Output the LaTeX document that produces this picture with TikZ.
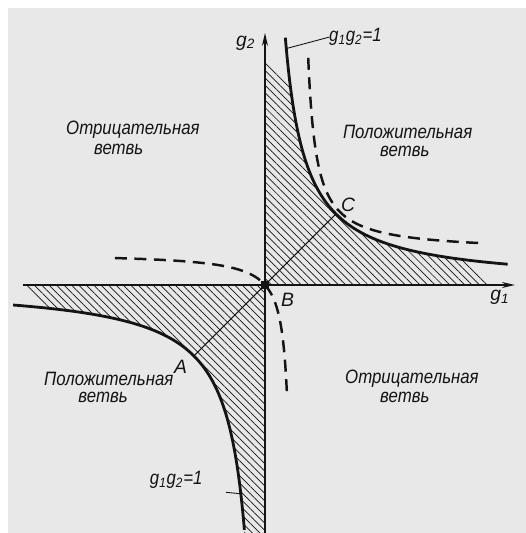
\documentclass[tikz,border=0pt]{standalone}
\usepackage{fontspec}
\setmainfont{Liberation Sans}
\usepackage{tikz}
\usetikzlibrary{arrows.meta, positioning, calc, patterns.meta}
\definecolor{PaperGray}{HTML}{E8E8E8}
\definecolor{InkBlack}{HTML}{141414}
\newcommand{\narrowtext}[1]{\scalebox{0.87}[1]{#1}}

\begin{document}
\begin{tikzpicture}[x=1.42cm, y=1.42cm, >={Stealth[length=2.6mm, width=1.2mm]},
    axis/.style={line width=0.8pt, ->, color=InkBlack},
    branch/.style={line width=1.6pt, color=InkBlack},
    dashbranch/.style={line width=1.4pt, color=InkBlack, dash pattern=on 2.4mm off 1.5mm},
    hatched/.style={pattern={Lines[angle=-45, distance=1.05mm, line width=0.4pt]}, pattern color=InkBlack},
    region/.style={font=\itshape\fontsize{11}{13}\selectfont, color=InkBlack, inner sep=0pt},
    ptlabel/.style={font=\itshape\fontsize{11}{13}\selectfont, color=InkBlack, inner sep=0pt}]
                % Page and paper
                \useasboundingbox (-3.732,-3.493) rectangle (3.676,4.014);
                \fill[white] (-3.732,-3.493) rectangle (3.676,4.014);
                \fill[PaperGray] (-3.620,-3.493) rectangle (3.676,3.901);

                % Hatched zones between the axes and g1g2=1
                \fill[hatched] (0,0) -- (0,3.2) -- (0.351,2.849)
                    -- plot[domain=-1.047:1.047, samples=60] ({exp(\x)},{exp(-\x)})
                    -- (3.2,0) -- cycle;
                \fill[hatched] (0,0) -- (-3.41,0) -- (-3.086,-0.324)
                    -- plot[domain=1.127:-1.238, samples=60] ({-exp(\x)},{-exp(-\x)})
                    -- (-0.29,-3.6) -- (0,-3.6) -- cycle;

                % Coordinate Axes
                \coordinate (g1start) at (-3.41,0);
                \coordinate (g1end) at (3.52,0);
                \coordinate (g2start) at (0,-3.6);
                \coordinate (g2end) at (0,3.55);
                \draw[axis] (g1start) -- (g1end);
                \draw[axis] (g2start) -- (g2end);
                \node[ptlabel] (g1lab) at (3.31,-0.18) {g\textsubscript{1}};
                \node[ptlabel] (g2lab) at (-0.27,3.41) {g\textsubscript{2}};

                % Hyperbola g1g2=1
                \draw[branch] plot[domain=-1.248:1.23, samples=90] ({exp(\x)},{exp(-\x)});
                \draw[branch] plot[domain=-1.238:1.267, samples=90] ({-exp(\x)},{-exp(-\x)});

                % Dashed curves
                \draw[dashbranch] plot[domain=-1.58:1.515, samples=90] ({0.493+0.5634*exp(\x)},{0.465+0.5634*exp(-\x)});
                \draw[dashbranch] plot[domain=1.779:-1.551, samples=90] ({0.4-0.4243*exp(\x)},{0.451-0.4243*exp(-\x)});

                % Points A, B, C
                \coordinate (A) at (-1,-1);
                \coordinate (C) at (1,1);
                \draw[line width=0.6pt, color=InkBlack] (A) -- (C);
                \node[fill=InkBlack, minimum size=1.7mm, inner sep=0pt] (B) at (0,0) {};
                \node[ptlabel] (Alab) at (-1.19,-1.15) {A};
                \node[ptlabel] (Blab) at (0.32,-0.21) {B};
                \node[ptlabel] (Clab) at (1.17,1.13) {C};

                % Curve labels
                \node[ptlabel, anchor=west] (toplab) at (0.9,3.49) {\narrowtext{g\textsubscript{1}g\textsubscript{2}=1}};
                \coordinate (toptick) at (0.30,3.33);
                \draw[line width=0.5pt, color=InkBlack] (toptick) -- (toplab.west);
                \node[ptlabel] (lowlab) at (-1.25,-2.75) {\narrowtext{g\textsubscript{1}g\textsubscript{2}=1}};
                \coordinate (lowtick) at (-0.55,-2.92);
                \coordinate (lowcurve) at (-0.34,-2.94);
                \draw[line width=0.5pt, color=InkBlack] (lowtick) -- (lowcurve);

                % Branch names
                \node[region] (negtop) at (-1.86,2.18) {\narrowtext{Отрицательная}};
                \node[region] (negtopb) at (-2.06,1.91) {\narrowtext{ветвь}};
                \node[region] (postop) at (2.01,2.15) {\narrowtext{Положительная}};
                \node[region] (postopb) at (1.97,1.88) {\narrowtext{ветвь}};
                \node[region] (poslow) at (-2.2,-1.32) {\narrowtext{Положительная}};
                \node[region] (poslowb) at (-2.28,-1.59) {\narrowtext{ветвь}};
                \node[region] (neglow) at (2.07,-1.32) {\narrowtext{Отрицательная}};
                \node[region] (neglowb) at (1.97,-1.59) {\narrowtext{ветвь}};
            \end{tikzpicture}
\end{document}
